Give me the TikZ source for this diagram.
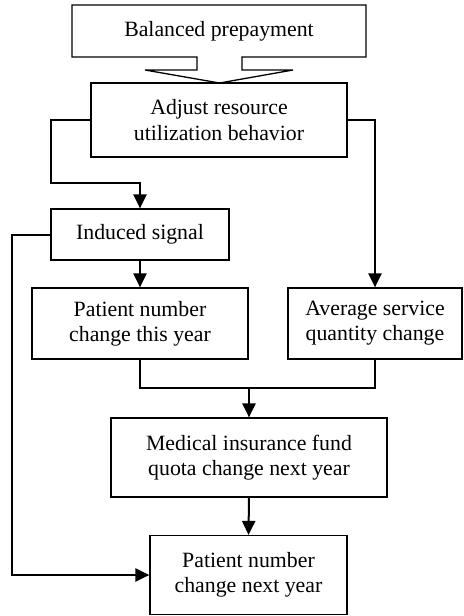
\documentclass[tikz,border=0pt]{standalone}
\usepackage{fontspec}
\setmainfont{Liberation Serif}
\usetikzlibrary{arrows.meta}
\begin{document}
\begin{tikzpicture}[x=0.5pt,y=-0.5pt,
  box/.style={draw, line width=0.65pt, rectangle, inner sep=0pt, align=center,
    font=\fontsize{10.9}{12.6}\selectfont},
  label/.style={inner sep=0pt, align=center, font=\fontsize{10.9}{12.6}\selectfont},
  conn/.style={line width=1pt},
  arr/.style={conn, -{Triangle[length=7pt,width=6.6pt]}}]
\useasboundingbox (0,0) rectangle (463,616);

% Top block with its arrow-shaped lower edge
\draw[line width=0.65pt] (72,5) -- (366,5) -- (366,57) -- (242,57) -- (242,70)
  -- (293,70) -- (219.5,83) -- (145,70) -- (197,70) -- (197,57) -- (72,57) -- cycle;
\node[label] (pre) at (219,31) {Balanced prepayment};

% Process boxes
\node[box, minimum width=128pt, minimum height=37pt] (adjust) at (219,120)
  {Adjust resource\\utilization behavior};
\node[box, minimum width=89pt, minimum height=25.5pt] (induced) at (140,234.5)
  {Induced signal};
\node[box, minimum width=108pt, minimum height=35.5pt] (pthis) at (140,323.5)
  {Patient number\\change this year};
\node[box, minimum width=87pt, minimum height=35.5pt] (avg) at (375,323.5)
  {Average service\\quantity change};
\node[box, minimum width=138pt, minimum height=39.5pt] (fund) at (249,457.5)
  {Medical insurance fund\\quota change next year};
\node[box, minimum width=98.5pt, minimum height=39.5pt] (pnext) at (248.5,575)
  {Patient number\\change next year};

% Routing points
\coordinate (bend) at (51,183);
\coordinate (join) at (249,388);
\coordinate (side) at (12,0);

% Connectors
\draw[arr] (adjust.west) -| (bend) -| (induced.north);
\draw[arr] (adjust.east) -| (avg.north);
\draw[arr] (induced.south) -- (pthis.north);
\draw[conn] (pthis.south) |- (join) -| (avg.south);
\draw[arr] (join) -- (fund.north);
\draw[arr] (fund.south) -- (pnext.north);
\draw[arr] (induced.west) -- (induced.west -| side) |- (pnext.west);
\end{tikzpicture}
\end{document}
